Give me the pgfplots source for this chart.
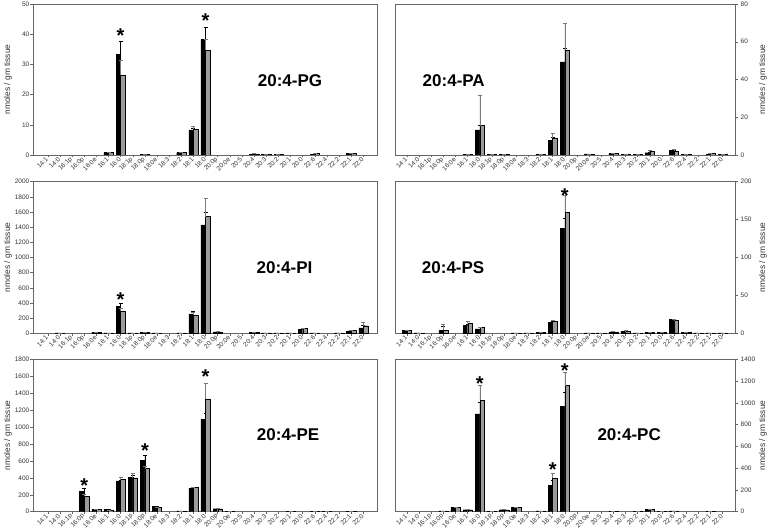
\documentclass[border=0pt]{standalone}
\usepackage{pgfplots}
\pgfplotsset{compat=1.18}
\usepackage{pgfplotstable}
\usepackage{fontspec}
\setmainfont{Liberation Sans}

\definecolor{framec}{HTML}{666666}
\definecolor{barg}{HTML}{9A9A9A}
\definecolor{errg}{HTML}{7A7A7A}
\definecolor{txt}{HTML}{333333}

% columns: x = category index, b = black bar, be = black error (+), g = grey bar, ge = grey error (+)
\pgfplotstableread{
x b be g ge
5 0.8 0 0.8 0
6 33.3 4.3 26.5 4.8
8 0.15 0 0.15 0
11 0.8 0 0.9 0
12 8.3 0.7 8.5 1.1
13 38.3 4.0 34.7 3.7
17 0.3 0 0.4 0
18 0.2 0 0.2 0
19 0.1 0 0.15 0
22 0.1 0 0.5 0
25 0.5 0 0.5 0
}\tPG
\pgfplotstableread{
x b be g ge
5 0.3 0 0.3 0
6 13.3 2.6 15.6 15.8
7 0.3 0 0.3 0
8 0.3 0 0.3 0
11 0.3 0 0.3 0
12 7.8 1.6 8.8 2.8
13 49.4 7.0 55.6 14.0
15 0.6 0 0.5 0
17 1.0 0.1 1.0 0.1
18 0.3 0 0.3 0
19 0.2 0 0.2 0
20 1.2 0.3 1.8 0.5
22 2.3 0.3 2.0 1.0
23 0.3 0 0.3 0
25 0.5 0 0.7 0
26 0.3 0 0.3 0
}\tPA
\pgfplotstableread{
x b be g ge
1 5 0 5 0
4 10 0 10 0
5 5 0 5 0
6 355 35 295 40
7 5 0 5 0
8 8 0 8 0
9 5 0 5 0
11 5 0 5 0
12 255 40 242 35
13 1429 167 1539 242
14 20 0 20 0
17 8 0 8 0
18 5 0 5 0
19 5 0 5 0
20 5 0 5 0
21 55 5 62 6
22 5 0 5 0
24 5 0 5 0
25 32 5 38 5
26 70 30 100 50
}\tPI
\pgfplotstableread{
x b be g ge
0 4 0 4 0
1 0.5 0 0.5 0
3 3.5 5.8 4 8.4
5 10.2 2.2 13.3 2.7
6 5.8 0 8.0 0.5
9 0.5 0 0.5 0
10 0.5 0 0.5 0
11 1 0 1 0
12 14.6 1.4 16 1
13 138 14 160 22
15 0.5 0 0.5 0
16 0.5 0 0.5 0
17 2 0 2 0
18 3 0 3 0.5
19 0.5 0 0.5 0
20 1 0 1 0
21 1 0 1.5 0
22 18.6 0.5 16.8 1.7
23 1 0 1 0
24 0.5 0 0.5 0
25 0.5 0 0.5 0
26 0.5 0 0.5 0
}\tPS
\pgfplotstableread{
x b be g ge
3 239 43 184 24
4 30 0 25 0
5 30 0 22 0
6 365 8 380 32
7 404 23 400 51
8 608 59 510 31
9 60 0 50 0
11 10 0 10 0
12 275 19 286 8
13 1090 67 1333 189
14 35 5 35 5
15 5 0 5 0
20 5 0 5 0
22 5 0 5 0
23 3 0 3 0
25 5 0 5 0
}\tPE
\pgfplotstableread{
x b be g ge
3 8 0 8 0
4 40 0 40 0
5 18 0 18 0
6 898 104 1026 138
7 5 0 5 0
8 18 0 18 0
9 38 0 38 0
11 8 0 8 0
12 245 40 306 46
13 971 129 1158 123
17 5 0 5 0
19 5 0 5 0
20 20 0 25 0
21 5 0 5 0
22 8 0 8 0
25 3 0 3 0
}\tPC

\pgfplotsset{
  panel/.style={
    scale only axis, anchor=south west, ymin=0,
    xtick={0,...,26},
    xticklabels={14:1,14:0,16:1p,16:0p,16:0e,16:1,16:0,18:1p,18:0p,18:0e,18:3,18:2,18:1,18:0,20:0p,20:0e,20:5,20:4,20:3,20:2,20:1,20:0,22:6,22:4,22:2,22:1,22:0},
    xticklabel style={rotate=45, anchor=east, font=\fontsize{6.5}{6.5}\selectfont, text=txt, inner sep=1pt},
    yticklabel style={font=\fontsize{6.5}{7}\selectfont, text=txt},
    ylabel={nmoles / gm tissue},
    tick align=outside, major tick length=2.5pt,
    axis line style={framec, line width=0.6pt},
    tick style={framec, line width=0.5pt},
    xtick pos=bottom,
    /pgf/number format/assume math mode=true,
    /pgf/number format/1000 sep={},
  },
  leftp/.style={panel, width=344pt, xmin=-1.22, xmax=27.12, ytick pos=left,
    yticklabel style={inner sep=1pt},
    ylabel style={font=\fontsize{8.4}{9}\selectfont, text=txt, at={(axis description cs:-0.0727,0.5)}, anchor=center}},
  rightp/.style={panel, width=340pt, xmin=-0.99, xmax=27.02, ytick pos=right, yticklabel pos=right,
    yticklabel style={inner sep=3pt},
    ylabel style={font=\fontsize{8.4}{9}\selectfont, text=txt, at={(axis description cs:1.082,0.5)}, anchor=center}},
  blk/.style={ybar, bar width=0.38, bar shift=-0.19, fill=black, draw=black, line width=0.4pt,
    error bars/.cd, y dir=plus, y explicit,
    error bar style={black, line width=0.6pt}, error mark options={black, rotate=90, mark size=2pt, line width=0.6pt}},
  gry/.style={ybar, bar width=0.38, bar shift=0.19, fill=barg, draw=black, line width=0.4pt,
    error bars/.cd, y dir=plus, y explicit,
    error bar style={errg, line width=0.6pt}, error mark options={errg, rotate=90, mark size=2pt, line width=0.6pt}},
}
\tikzset{
  ttl/.style={font=\fontsize{17}{17}\selectfont\bfseries, text=black},
  ast/.style={font=\fontsize{20}{20}\selectfont\bfseries, inner sep=0pt, yshift=-4.3pt},
}

\begin{document}
\begin{tikzpicture}
\useasboundingbox (0pt,0pt) rectangle (769pt,531pt);

% 20:4-PG
\begin{axis}[leftp, at={(33pt,376pt)}, height=151pt, ymax=50, ytick={0,10,...,50}]
\addplot[blk] table[x=x, y=b, y error=be] {\tPG};
\addplot[gry] table[x=x, y=g, y error=ge] {\tPG};
\node[ttl] at (axis cs:19.95,24.5) {20:4-PG};
\node[ast] at (axis cs:6,40.8) {*};
\node[ast] at (axis cs:13,45.8) {*};
\end{axis}

% 20:4-PA
\begin{axis}[rightp, at={(395pt,376pt)}, height=151pt, ymax=80, ytick={0,20,...,80}]
\addplot[blk] table[x=x, y=b, y error=be] {\tPA};
\addplot[gry] table[x=x, y=g, y error=ge] {\tPA};
\node[ttl] at (axis cs:3.85,39.2) {20:4-PA};
\end{axis}

% 20:4-PI
\begin{axis}[leftp, at={(33pt,197.7pt)}, height=151.6pt, ymax=2000, ytick={0,200,...,2000}]
\addplot[blk] table[x=x, y=b, y error=be] {\tPI};
\addplot[gry] table[x=x, y=g, y error=ge] {\tPI};
\node[ttl] at (axis cs:19.5,870) {20:4-PI};
\node[ast] at (axis cs:6,505) {*};
\end{axis}

% 20:4-PS
\begin{axis}[rightp, at={(395pt,197.7pt)}, height=151.6pt, ymax=200, ytick={0,50,...,200}]
\addplot[blk] table[x=x, y=b, y error=be] {\tPS};
\addplot[gry] table[x=x, y=g, y error=ge] {\tPS};
\node[ttl] at (axis cs:3.8,87) {20:4-PS};
\node[ast] at (axis cs:13,187) {*};
\end{axis}

% 20:4-PE
\begin{axis}[leftp, at={(33pt,19.3pt)}, height=152.4pt, ymax=1800, ytick={0,200,...,1800}]
\addplot[blk] table[x=x, y=b, y error=be] {\tPE};
\addplot[gry] table[x=x, y=g, y error=ge] {\tPE};
\node[ttl] at (axis cs:19.8,914) {20:4-PE};
\node[ast] at (axis cs:3,354) {*};
\node[ast] at (axis cs:8,776) {*};
\node[ast] at (axis cs:13,1642) {*};
\end{axis}

% 20:4-PC
\begin{axis}[rightp, at={(395pt,19.3pt)}, height=152.4pt, ymax=1400, ytick={0,200,...,1400}]
\addplot[blk] table[x=x, y=b, y error=be] {\tPC};
\addplot[gry] table[x=x, y=g, y error=ge] {\tPC};
\node[ttl] at (axis cs:18.3,711) {20:4-PC};
\node[ast] at (axis cs:6,1216) {*};
\node[ast] at (axis cs:12,429) {*};
\node[ast] at (axis cs:13,1332) {*};
\end{axis}
\end{tikzpicture}
\end{document}
